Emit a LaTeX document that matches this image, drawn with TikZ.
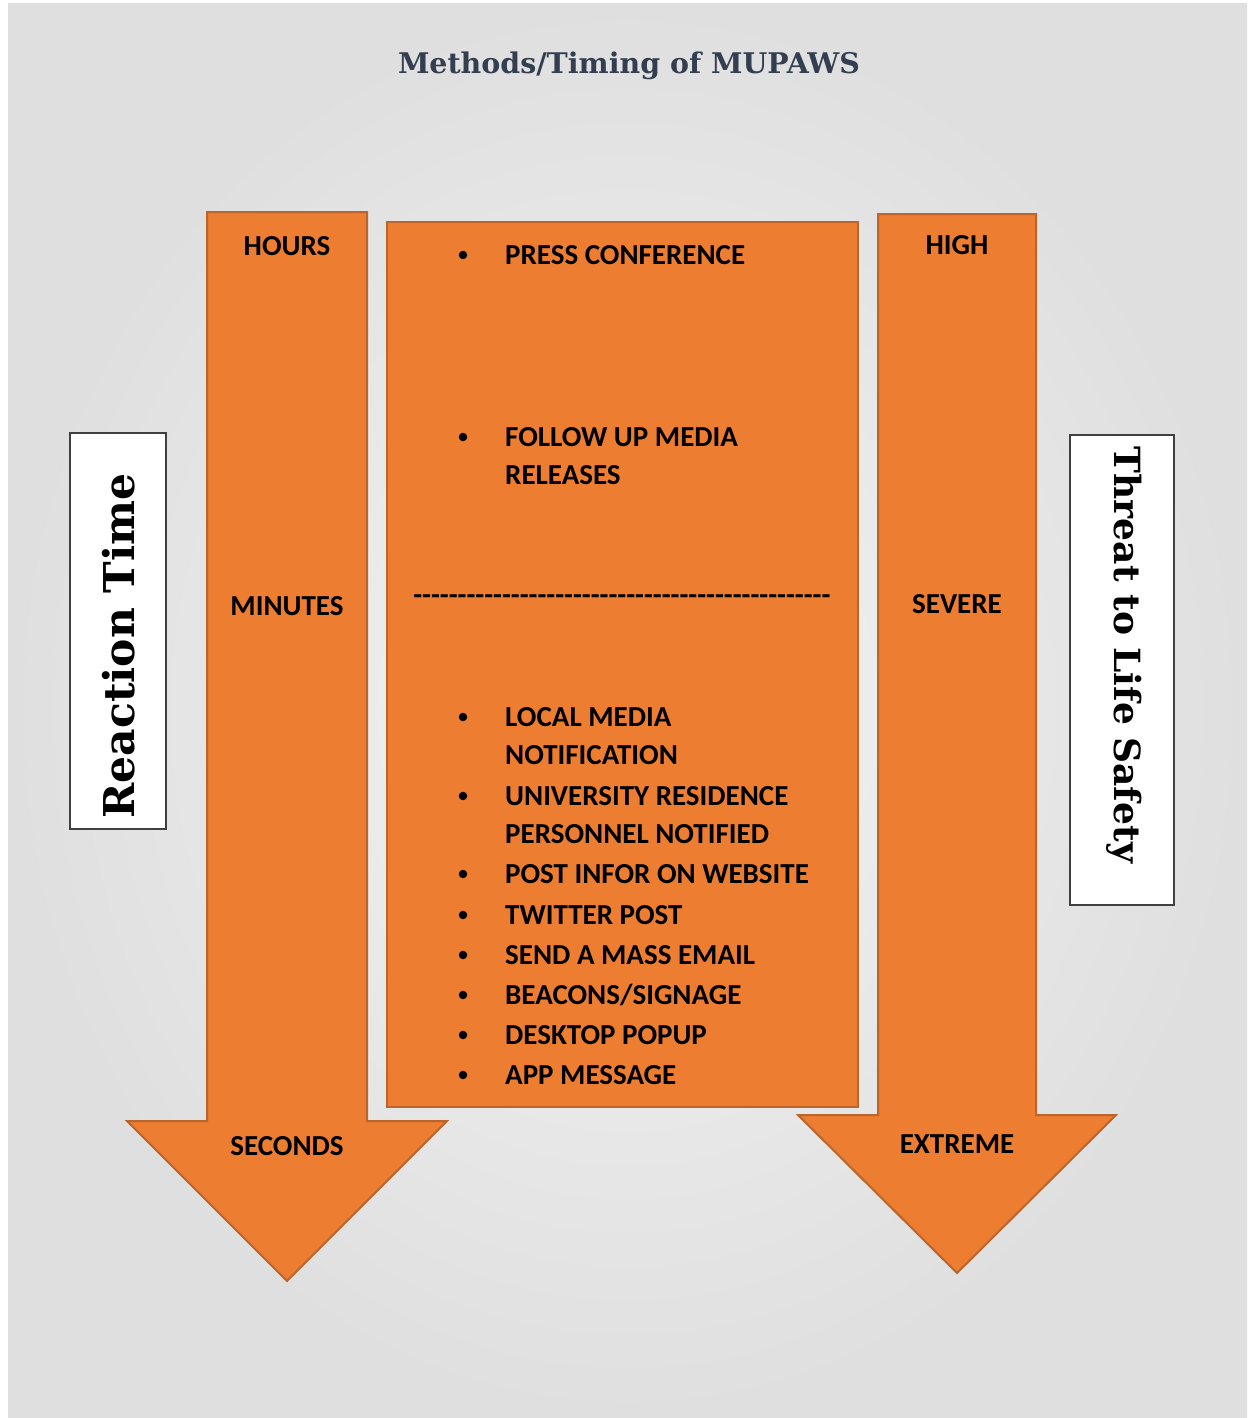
\documentclass[tikz,border=0pt]{standalone}
\usepackage{fontspec}
\usepackage{graphicx}
\newfontfamily\bodyfont{Carlito}
\newfontfamily\slabfont{DejaVu Serif}
\definecolor{bglight}{HTML}{F4F4F4}
\definecolor{bgdark}{HTML}{E0DFE0}
\definecolor{orfill}{HTML}{ED7D31}
\definecolor{oredge}{HTML}{B9652C}
\definecolor{titlecol}{HTML}{333F50}
\definecolor{boxedge}{HTML}{404040}
\tikzset{
  orshape/.style={fill=orfill, draw=oredge, line width=2pt, line join=miter},
  lbl/.style={font=\bodyfont\bfseries\fontsize{29}{35}\selectfont, text=black, inner sep=0pt},
  itm/.style={lbl, anchor=base west},
  bul/.style={fill=black, circle, inner sep=0pt, minimum size=8.5pt},
  sidebox/.style={fill=white, draw=boxedge, line width=1.2pt},
  sidetxt/.style={font=\slabfont\bfseries, text=black, inner sep=0pt}
}
\begin{document}
\begin{tikzpicture}[x=1pt,y=-1pt]
\useasboundingbox (0,0) rectangle (1247,1418);
\fill[white] (0,0) rectangle (1247,1418);
\shade[inner color=bglight, outer color=bgdark] (8,4) rectangle (1247,1418);
% title
\node[font=\slabfont\bfseries, text=titlecol, inner sep=0pt] (title) at (629,66) {\resizebox{462pt}{!}{Methods/Timing of MUPAWS}};
% left arrow
\draw[orshape] (207,212) -- (367,212) -- (367,1121) -- (447,1121) -- (287,1281) -- (127,1121) -- (207,1121) -- cycle;
% right arrow
\draw[orshape] (878,214) -- (1036,214) -- (1036,1115) -- (1116,1115) -- (957,1273) -- (798,1115) -- (878,1115) -- cycle;
% center box
\draw[orshape] (387,222) rectangle (858,1107);
% arrow labels
\node[lbl] (hours) at (287,246) {HOURS};
\node[lbl] (minutes) at (287,606) {MINUTES};
\node[lbl] (seconds) at (287,1146) {SECONDS};
\node[lbl] (high) at (957,245) {HIGH};
\node[lbl] (severe) at (957,604) {SEVERE};
\node[lbl] (extreme) at (957,1144) {EXTREME};
% side label boxes
\draw[sidebox] (70,433) rectangle (166,829);
\node[sidetxt, rotate=90] (react) at (119,646) {\resizebox{345pt}{!}{Reaction Time}};
\draw[sidebox] (1070,435) rectangle (1174,905);
\node[sidetxt, rotate=-90] (threat) at (1124,655) {\resizebox{416pt}{!}{Threat to Life Safety}};
% list items
\node[bul] (b1) at (463,255) {};
\node[itm] (t1) at (505,264) {PRESS CONFERENCE};
\node[bul] (b2) at (463,437) {};
\node[itm] (t2) at (505,446) {FOLLOW UP MEDIA};
\node[itm] (t2b) at (505,484) {RELEASES};
\node[lbl] (dash) at (622,600) {-----------------------------------------------};
\node[bul] (b3) at (463,717) {};
\node[itm] (t3) at (505,726) {LOCAL MEDIA};
\node[itm] (t3b) at (505,764) {NOTIFICATION};
\node[bul] (b4) at (463,796) {};
\node[itm] (t4) at (505,805) {UNIVERSITY RESIDENCE};
\node[itm] (t4b) at (505,843) {PERSONNEL NOTIFIED};
\node[bul] (b5) at (463,874) {};
\node[itm] (t5) at (505,883) {POST INFOR ON WEBSITE};
\node[bul] (b6) at (463,915) {};
\node[itm] (t6) at (505,924) {TWITTER POST};
\node[bul] (b7) at (463,955) {};
\node[itm] (t7) at (505,964) {SEND A MASS EMAIL};
\node[bul] (b8) at (463,995) {};
\node[itm] (t8) at (505,1004) {BEACONS/SIGNAGE};
\node[bul] (b9) at (463,1035) {};
\node[itm] (t9) at (505,1044) {DESKTOP POPUP};
\node[bul] (b10) at (463,1075) {};
\node[itm] (t10) at (505,1084) {APP MESSAGE};
\end{tikzpicture}
\end{document}
